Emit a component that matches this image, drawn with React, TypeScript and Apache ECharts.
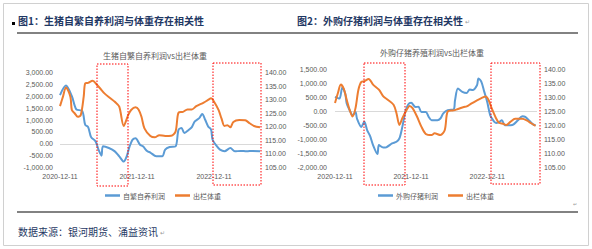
import React, { useEffect, useRef } from "react";
import * as echarts from "echarts";

// ---------- data (x = weeks since 2020-12-11) ----------
const xTickValues = [0, 52, 104];
const xTickLabels = ["2020-12-11", "2021-12-11", "2022-12-11"];

const chart1Title = "生猪自繁自养利润vs出栏体重";
const chart2Title = "外购仔猪养殖利润vs出栏体重";
const series1Names = ["自繁自养利润", "出栏体重"];
const series2Names = ["外购仔猪利润", "出栏体重"];

const profit1 = [
  [0, 2050], [4, 2450], [8, 2000], [11, 1450], [15, 1380], [17, 800], [19, 700], [21, 280],
  [24, 100], [26, -250], [28, -500], [29, -110], [33, -180], [37, -320], [40, -530], [43, -750],
  [45, -530], [47, -110], [49, 170], [51, 230], [54, -40], [56, -110], [59, -320], [61, -370],
  [65, -530], [69, -530], [71, -250], [74, -140], [78, -110], [80, 590], [82, 660], [84, 450],
  [87, 590], [89, 700], [91, 940], [94, 1080], [96, 1250], [98, 1010], [100, 730], [102, 590],
  [103, 170], [106, -110], [108, -250], [111, -320], [115, -180], [118, -320], [122, -300],
  [126, -320], [130, -300], [135, -320],
];
const weight1 = [
  [0, 127.6], [2, 131.1], [4, 134.5], [7, 131.1], [8, 126.2], [10, 124.9], [12, 123.7], [14, 124.3],
  [16, 131.1], [17, 136], [19, 136.2], [22, 137], [25, 135.4], [27, 134.2], [30, 132.3], [34, 130.5],
  [37, 129.2], [40, 127.4], [43, 120.3], [46, 124.3], [48, 126.2], [51, 127.2], [53, 126.4],
  [55, 123.7], [57, 119.4], [61, 116.6], [64, 116.1], [67, 116.9], [71, 116.6], [75, 116.7],
  [78, 118.2], [80, 125.2], [83, 125.5], [86, 126.4], [89, 126.4], [92, 127.6], [97, 128.9],
  [100, 129.9], [102, 130.5], [104, 129.2], [107, 126.2], [109, 123.1], [111, 120.3], [113, 120.6],
  [115, 119.8], [117, 121.8], [121, 122.5], [125, 122.4], [128, 121.3], [131, 120.3], [135, 119.8],
];
const profit2 = [
  [0, 520], [3, 460], [5, 860], [7, 640], [8, 290], [10, 50], [12, -130], [14, -15], [15, -250],
  [18, -550], [20, -370], [22, -670], [24, -880], [26, -1200], [29, -1520], [30, -1200], [33, -1290],
  [35, -1280], [39, -1140], [42, -1080], [44, -960], [46, -550], [48, -15], [50, 250], [52, 310],
  [55, 160], [57, 170], [59, -15], [62, -15], [64, -190], [66, -310], [70, -310], [72, -250],
  [74, -70], [77, 50], [81, 70], [82, 400], [84, 820], [87, 700], [90, 660], [92, 790], [94, 770],
  [97, 940], [98, 1180], [100, 1060], [102, 700], [104, 340], [106, -130], [108, -310], [110, -410],
  [112, -380], [114, -310], [116, -490], [120, -490], [122, -460], [125, -310], [128, -170],
  [130, -190], [133, -340], [135, -450], [137, -490],
];
const weight2 = [
  [0, 128], [2, 131.6], [4, 134.6], [6, 133.1], [8, 129.2], [10, 125.6], [12, 123.2], [14, 126.2],
  [16, 132.8], [18, 135.6], [20, 135.8], [23, 136.6], [26, 134.6], [30, 132.8], [33, 130.4],
  [36, 129.2], [40, 127.4], [42, 124.4], [44, 120.2], [46, 122.6], [49, 125.6], [51, 127],
  [53, 126.2], [56, 123.2], [59, 119.6], [62, 117], [66, 116.6], [68, 117.2], [72, 116.6],
  [75, 118.4], [77, 125], [81, 125.4], [84, 125.9], [88, 126.6], [90, 126.8], [93, 127.8], [97, 129],
  [100, 129.8], [103, 130.4], [105, 129], [107, 126.2], [110, 122.6], [112, 121], [115, 120.6],
  [117, 120.2], [120, 121.4], [123, 122.4], [128, 122.4], [131, 121.8], [134, 120.8], [137, 119.9],
];

const BLUE = "#5B9BD5";
const ORANGE = "#ED7D31";
const GRAY = "#595959";
const NAVY = "#1F3864";
const FONT = "'Noto Sans CJK SC', 'Noto Sans', sans-serif";
const NUMFONT = "'Liberation Sans', Arial, sans-serif";

const fmtNum = (v: number) =>
  v.toLocaleString("en-US", { minimumFractionDigits: 2, maximumFractionDigits: 2 });

const xLabel = (v: number) => {
  const i = xTickValues.indexOf(v);
  return i >= 0 ? xTickLabels[i] : "";
};

function xAxisDef(gridIndex: number, max: number) {
  return {
    type: "value",
    gridIndex,
    min: 0,
    max,
    interval: 52,
    axisLine: { show: false },
    axisTick: { show: false },
    splitLine: { show: false },
    axisLabel: {
      formatter: xLabel,
      color: GRAY,
      fontSize: 7,
      fontFamily: NUMFONT,
      margin: 5,
      showMaxLabel: false,
    },
  };
}

function yAxisDef(gridIndex: number, min: number, max: number, interval: number, position: string, margin: number) {
  return {
    type: "value",
    gridIndex,
    min,
    max,
    interval,
    position,
    axisLine: { show: false },
    axisTick: { show: false },
    splitLine: { show: false },
    axisLabel: { formatter: fmtNum, color: GRAY, fontSize: 7, fontFamily: NUMFONT, margin },
  };
}

function lineSeries(name: string, data: number[][], color: string, xi: number, yi: number, zero: boolean) {
  const s: any = {
    type: "line",
    name,
    data,
    xAxisIndex: xi,
    yAxisIndex: yi,
    showSymbol: false,
    smooth: 0.3,
    lineStyle: { color, width: 2 },
    itemStyle: { color },
    z: color === BLUE ? 3 : 4,
  };
  if (zero) {
    s.markLine = {
      silent: true,
      symbol: "none",
      label: { show: false },
      lineStyle: { color: "#D9D9D9", type: "solid", width: 1 },
      data: [{ yAxis: 0 }],
      z: 1,
    };
  }
  return s;
}

function redRect(x1: number, y1: number, x2: number, y2: number) {
  return {
    type: "rect",
    shape: { x: x1, y: y1, width: x2 - x1, height: y2 - y1 },
    style: { fill: "none", stroke: "#FF0000", lineWidth: 1, lineDash: [1.5, 1.5] },
    z: 100,
  };
}

function text(x: number, y: number, t: string, size: number, fill: string, weight = "normal", align = "left") {
  return {
    type: "text",
    x,
    y,
    style: {
      text: t,
      fontSize: size,
      fontFamily: FONT,
      fontWeight: weight,
      fill,
      textAlign: align,
      textVerticalAlign: "middle",
    },
    z: 100,
  };
}

export default function App() {
  const ref = useRef<HTMLDivElement>(null);
  useEffect(() => {
    if (!ref.current) return;
    const chart = echarts.init(ref.current, null, { renderer: "svg" });
    const legendCommon = {
      icon: "rect",
      itemWidth: 15,
      itemHeight: 2.5,
      itemGap: 10,
      textStyle: { color: GRAY, fontSize: 7, fontFamily: FONT, padding: [0, 0, 0, -2] },
      top: 187,
    };
    chart.setOption({
      animation: false,
      backgroundColor: "#ffffff",
      grid: [
        { left: 60, top: 72.5, width: 200, height: 95 },
        { left: 335, top: 69.5, width: 202, height: 98 },
      ],
      xAxis: [xAxisDef(0, 135), xAxisDef(1, 138)],
      yAxis: [
        yAxisDef(0, -1000, 3000, 500, "left", 7),
        yAxisDef(0, 105, 140, 5, "right", 5),
        yAxisDef(1, -2000, 1500, 500, "left", 8),
        yAxisDef(1, 105, 140, 5, "right", 7),
      ],
      legend: [
        { ...legendCommon, left: 100, data: series1Names.map((n) => ({ name: n })), selectedMode: false },
        { ...legendCommon, left: 373, data: series2Names.map((n) => ({ name: n })), selectedMode: false },
      ],
      series: [
        lineSeries(series1Names[0], profit1, BLUE, 0, 0, true),
        lineSeries(series1Names[1], weight1, ORANGE, 0, 1, false),
        lineSeries(series2Names[0], profit2, BLUE, 1, 2, true),
        lineSeries(series2Names[1], weight2, ORANGE, 1, 3, false),
      ],
      graphic: [
        {
          type: "rect",
          shape: { x: 3.5, y: 3.5, width: 585, height: 242 },
          style: { fill: "none", stroke: "#D0D0D0", lineWidth: 1 },
          z: 50,
        },
        { type: "rect", shape: { x: 12, y: 22, width: 3, height: 3 }, style: { fill: "#000" }, z: 100 },
        text(18, 20, "图1：生猪自繁自养利润与体重存在相关性", 10, NAVY, "bold"),
        text(297, 20, "图2：外购仔猪利润与体重存在相关性", 10, NAVY, "bold"),
        text(465, 21, "↵", 6, "#999999"),
        {
          type: "line",
          shape: { x1: 17, y1: 33, x2: 578, y2: 33 },
          style: { stroke: "#595959", lineWidth: 1.5 },
          z: 100,
        },
        text(155, 55.5, chart1Title, 8, GRAY, "normal", "center"),
        text(432, 52.5, chart2Title, 8, GRAY, "normal", "center"),
        redRect(97, 64, 128, 186),
        redRect(213, 63, 261, 185),
        redRect(364, 63, 405, 185),
        redRect(491, 63, 540, 184),
        text(573, 203, "↵", 5, "#999999"),
        {
          type: "line",
          shape: { x1: 17, y1: 212, x2: 578, y2: 212 },
          style: { stroke: "#595959", lineWidth: 1.5 },
          z: 100,
        },
        text(18, 231, "数据来源：银河期货、涌益资讯", 10, NAVY),
        text(160, 232, "↵", 6, "#999999"),
      ],
    });
    return () => chart.dispose();
  }, []);
  return (
    <div
      ref={ref}
      style={{ position: "absolute", left: 0, top: 0, width: 592, height: 249, background: "#fff" }}
    />
  );
}
